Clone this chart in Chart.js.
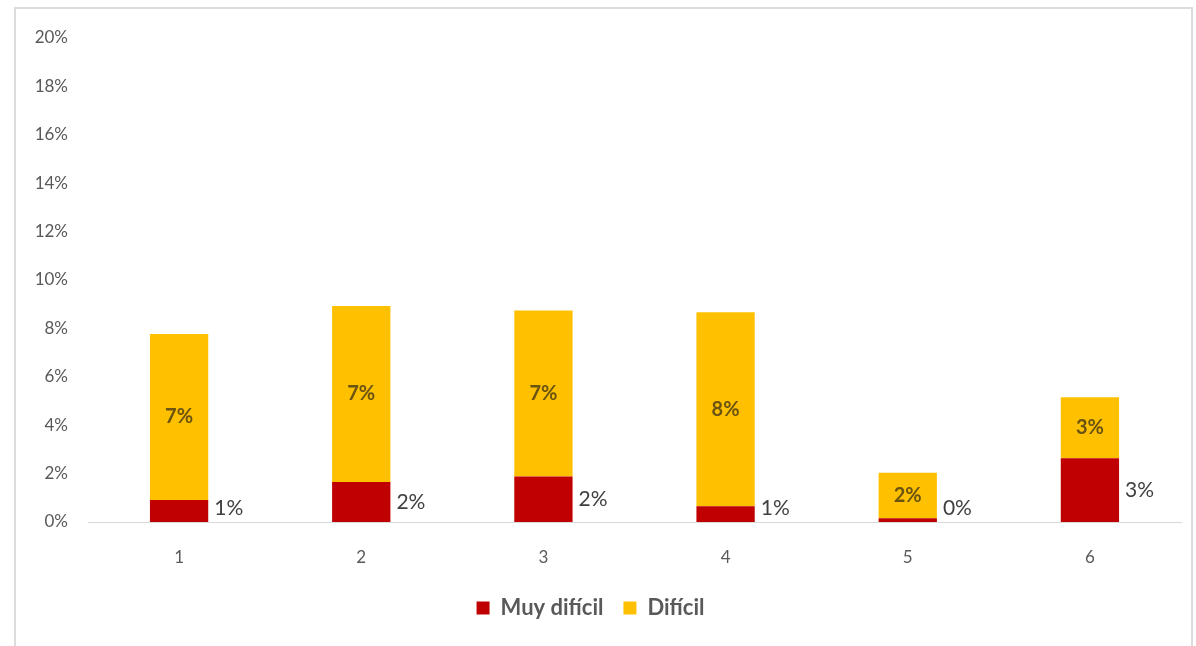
<!DOCTYPE html>
<html>
<head>
<meta charset="utf-8">
<script src="https://cdn.jsdelivr.net/npm/chart.js@4"></script>
<style>
	html, body { margin: 0; padding: 0; background: #fff; }
	#wrap { position: relative; width: 1196px; height: 646px; overflow: hidden; }
	#frame {
		position: absolute; left: 14px; top: 7px; width: 1179px; height: 700px;
		border: 2px solid #dcdcdc; box-sizing: border-box;
	}
	#c { position: absolute; left: 0; top: 0; }
</style>
</head>
<body>
<div id="wrap">
	<div id="frame"></div>
	<canvas id="c" width="1196" height="646"></canvas>
</div>
<script>
const categories = ["1", "2", "3", "4", "5", "6"];
const muyDificil = [0.91, 1.65, 1.88, 0.65, 0.15, 2.63];
const dificil = [6.86, 7.28, 6.86, 8.02, 1.89, 2.52];
const yTicks = [0, 2, 4, 6, 8, 10, 12, 14, 16, 18, 20];

const FONT = "Lato, 'Open Sans', sans-serif";

// draws the value labels: yellow ones centred, red ones to the right of the bar
const valueLabels = {
	id: "valueLabels",
	afterDatasetsDraw(chart) {
		const ctx = chart.ctx;
		ctx.save();
		chart.data.datasets.forEach((ds, i) => {
			const meta = chart.getDatasetMeta(i);
			meta.data.forEach((bar, j) => {
				const txt = Math.round(ds.data[j]) + "%";
				const mid = (bar.y + bar.base) / 2;
				ctx.textBaseline = "middle";
				if (i === 1) {
					ctx.font = "bold 20px " + FONT;
					ctx.fillStyle = "#6b5310";
					ctx.textAlign = "center";
					ctx.fillText(txt, bar.x, mid);
				} else {
					ctx.font = "21px " + FONT;
					ctx.fillStyle = "#404040";
					ctx.textAlign = "left";
					ctx.fillText(txt, bar.x + bar.width / 2 + 6, Math.min(mid, bar.base - 14));
				}
			});
		});
		ctx.restore();
	},
};

new Chart(document.getElementById("c"), {
	type: "bar",
	data: {
		labels: categories,
		datasets: [
			{
				label: "Muy difícil",
				data: muyDificil,
				backgroundColor: "#c00000",
				barPercentage: 0.32,
				categoryPercentage: 1,
			},
			{
				label: "Difícil",
				data: dificil,
				backgroundColor: "#ffc000",
				barPercentage: 0.32,
				categoryPercentage: 1,
			},
		],
	},
	options: {
		responsive: false,
		animation: false,
		layout: { padding: { top: 38, right: 15, bottom: 17, left: 0 } },
		plugins: {
			legend: {
				position: "bottom",
				labels: {
					boxWidth: 13,
					boxHeight: 13,
					padding: 20,
					color: "#595959",
					font: { family: FONT, size: 22, weight: "bold" },
				},
			},
			tooltip: { enabled: false },
		},
		scales: {
			x: {
				stacked: true,
				grid: { display: false, drawTicks: false },
				border: { display: true, color: "#d9d9d9", width: 1 },
				ticks: { color: "#595959", padding: 25, font: { family: FONT, size: 17 } },
				afterFit: (s) => { s.height = 55; },
			},
			y: {
				stacked: true,
				min: 0,
				max: 20,
				grid: { display: false, drawTicks: false },
				border: { display: false },
				afterBuildTicks: (s) => { s.ticks = yTicks.map((v) => ({ value: v })); },
				afterFit: (s) => { s.width = 88; },
				ticks: {
					color: "#595959",
					padding: 20,
					font: { family: FONT, size: 17 },
					callback: (v) => v + "%",
				},
			},
		},
	},
	plugins: [valueLabels],
});
</script>
</body>
</html>
